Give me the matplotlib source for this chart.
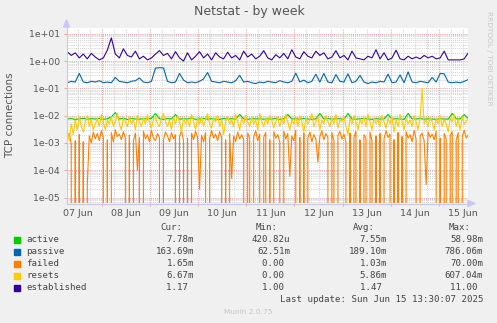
import numpy as np
import pandas as pd
import matplotlib
matplotlib.use('Agg')
import matplotlib.pyplot as plt
import matplotlib.dates as mdates
from matplotlib.patches import Rectangle, Polygon
from matplotlib.lines import Line2D
from matplotlib.ticker import LogLocator, FuncFormatter, NullFormatter

W, H = 497, 323

# samples every 2 hours (smooth series) and every hour (jagged series)
times = pd.date_range('2025-06-07 06:40', periods=101, freq='2h')
times_h = pd.date_range('2025-06-07 06:40', periods=201, freq='h')

active = [7.5e-3, 7.8e-3, 7.2e-3, 7.6e-3, 8e-3, 7.4e-3, 7.7e-3, 7.5e-3, 7.9e-3, 7.3e-3,
          7.6e-3, 9e-3, 1.3e-2, 7.5e-3, 8e-3, 7.2e-3, 7.8e-3, 7.5e-3, 7.4e-3, 7.7e-3,
          7.5e-3, 7.9e-3, 1.2e-2, 7.6e-3, 7.3e-3, 7.8e-3, 7.5e-3, 1.1e-2, 7.4e-3, 7.7e-3,
          7.5e-3, 8.1e-3, 7.3e-3, 7.6e-3, 7.8e-3, 7.4e-3, 7.7e-3, 7.5e-3, 7.2e-3, 7.9e-3,
          7.5e-3, 7.7e-3, 7.4e-3, 1.1e-2, 7.6e-3, 7.3e-3, 7.8e-3, 7.5e-3, 7.7e-3, 7.4e-3,
          7.6e-3, 7.5e-3, 7.8e-3, 7.3e-3, 7.6e-3, 1.1e-2, 7.5e-3, 7.7e-3, 7.4e-3, 7.8e-3,
          7.5e-3, 7.3e-3, 7.6e-3, 1.2e-2, 7.5e-3, 7.8e-3, 7.4e-3, 7.6e-3, 7.7e-3, 7.3e-3,
          1.2e-2, 7.5e-3, 7.4e-3, 7.6e-3, 7.8e-3, 7.5e-3, 7.3e-3, 7.7e-3, 7.5e-3, 7.6e-3,
          1.1e-2, 7.4e-3, 7.7e-3, 7.5e-3, 7.3e-3, 1.2e-2, 7.6e-3, 7.5e-3, 7.8e-3, 7.4e-3,
          7.6e-3, 7.5e-3, 7.3e-3, 7.7e-3, 7.5e-3, 7.4e-3, 1.2e-2, 7.6e-3, 7.5e-3, 1.1e-2,
          7.8e-3]

passive = [0.16, 0.18, 0.17, 0.35, 0.17, 0.16, 0.18, 0.17, 0.19, 0.16,
           0.17, 0.16, 0.25, 0.18, 0.17, 0.16, 0.18, 0.19, 0.24, 0.17,
           0.16, 0.18, 0.55, 0.57, 0.56, 0.18, 0.16, 0.17, 0.35, 0.20,
           0.16, 0.17, 0.16, 0.18, 0.22, 0.38, 0.18, 0.17, 0.16, 0.18,
           0.17, 0.16, 0.19, 0.30, 0.17, 0.18, 0.16, 0.15, 0.17, 0.16,
           0.18, 0.17, 0.16, 0.19, 0.17, 0.16, 0.18, 0.36, 0.17, 0.20,
           0.16, 0.18, 0.33, 0.17, 0.35, 0.17, 0.16, 0.32, 0.18, 0.17,
           0.34, 0.16, 0.18, 0.30, 0.17, 0.15, 0.17, 0.16, 0.18, 0.17,
           0.33, 0.16, 0.17, 0.31, 0.16, 0.40, 0.17, 0.16, 0.18, 0.17,
           0.16, 0.25, 0.17, 0.35, 0.34, 0.17, 0.16, 0.17, 0.16, 0.18,
           0.21]

# hourly
failed = [1.5e-3, 2.2e-3, 9e-4, 0, 1.2e-3, 0, 2e-3, 0, 1.1e-3, 0,
          3e-5, 1.8e-3, 1.0e-3, 2.5e-3, 1.4e-3, 2.2e-3, 1.2e-3, 2.8e-3, 1.6e-3, 0,
          1.3e-3, 0, 2.4e-3, 1.1e-3, 3e-3, 1.7e-3, 2.1e-3, 1.3e-3, 2.6e-3, 1.5e-3,
          0, 1.9e-3, 0, 1.2e-3, 2.3e-3, 1e-4, 1.6e-3, 0, 2.7e-3, 1.4e-3,
          2e-3, 1.1e-3, 2.9e-3, 1.5e-3, 1.2e-3, 2.2e-3, 1.6e-3, 0, 1.3e-3, 2.5e-3,
          1.8e-3, 1.1e-3, 2.4e-3, 1.4e-3, 2e-3, 0, 1.7e-3, 2.8e-3, 1.2e-3, 0,
          1.5e-3, 0, 2.3e-3, 1.3e-3, 2.7e-3, 1.6e-3, 2e-5, 1.9e-3, 1.1e-3, 2.4e-3,
          0, 1.4e-3, 2.9e-3, 1.5e-3, 2.1e-3, 1.2e-3, 2.6e-3, 1.6e-3, 0, 1.3e-3,
          0, 2.2e-3, 5e-5, 1.8e-3, 1.1e-3, 2.5e-3, 1.4e-3, 2e-3, 1.3e-3, 0,
          2.3e-3, 1.5e-3, 0, 1.7e-3, 2.8e-3, 1.2e-3, 2.1e-3, 0, 1.6e-3, 2.4e-3,
          0, 1.3e-3, 0, 2.6e-3, 1.5e-3, 2e-3, 1.1e-3, 0, 2.7e-3, 1.4e-3,
          2.2e-3, 6e-5, 1.8e-3, 1.2e-3, 2.9e-3, 0, 1.6e-3, 0, 2.3e-3, 0,
          1.5e-3, 2.5e-3, 1.1e-3, 2e-3, 1.4e-3, 2e-4, 1.7e-3, 2.8e-3, 1.3e-3, 2.2e-3,
          1.6e-3, 0, 2.4e-3, 1.2e-3, 0, 1.9e-3, 2.6e-3, 1.4e-3, 2.1e-3, 1.1e-3,
          0, 2.3e-3, 0, 1.6e-3, 2.7e-3, 0, 1.3e-3, 0, 2e-3, 1.5e-3,
          0, 2.5e-3, 1.2e-3, 0, 1.8e-3, 0, 2.2e-3, 0, 1.4e-3, 2.8e-3,
          1.6e-3, 2.1e-3, 0, 1.3e-3, 0, 2.4e-3, 0, 1.7e-3, 0, 2.6e-3,
          1.5e-3, 2e-3, 1.1e-3, 2.9e-3, 1.4e-3, 0, 1.8e-3, 2.3e-3, 1.2e-3, 3e-5,
          2.5e-3, 1.6e-3, 2.1e-3, 1.3e-3, 2.7e-3, 0, 1.5e-3, 0, 2.2e-3, 1.4e-3,
          0, 1.9e-3, 2.6e-3, 0, 1.3e-3, 2.4e-3, 0, 1.7e-3, 2.9e-3, 1.5e-3,
          2e-3]

# hourly
resets = [3e-3, 1.2e-3, 5e-3, 2e-3, 7e-3, 3e-3, 9e-3, 4e-3, 2.5e-3, 6e-3,
          1e-2, 4e-3, 7e-3, 3e-3, 5e-3, 8e-3, 4e-3, 1.1e-2, 6e-3, 3e-3,
          7e-3, 5e-3, 9e-3, 4e-3, 6e-3, 1.2e-2, 5e-3, 3e-3, 8e-3, 6e-3,
          4e-3, 9e-3, 5e-3, 7e-3, 3e-3, 1e-2, 6e-3, 4e-3, 8e-3, 5e-3,
          1.1e-2, 6e-3, 3.5e-3, 7e-3, 9e-3, 5e-3, 4e-3, 8e-3, 1.2e-2, 6e-3,
          4e-3, 7e-3, 3e-3, 9e-3, 5e-3, 1e-2, 6e-3, 2.5e-3, 8e-3, 5e-3,
          7e-3, 4e-3, 1.1e-2, 6e-3, 3e-3, 8e-3, 5e-3, 9e-3, 4e-3, 7e-3,
          1.2e-2, 5e-3, 3.5e-3, 8e-3, 6e-3, 1e-2, 4e-3, 7e-3, 2e-3, 6e-3,
          9e-3, 5e-3, 7e-3, 4e-3, 1.1e-2, 6e-3, 3e-3, 8e-3, 5e-3, 1e-2,
          6e-3, 4e-3, 9e-3, 5e-3, 7e-3, 3e-3, 1.2e-2, 6e-3, 4e-3, 8e-3,
          5e-3, 1e-2, 7e-3, 3.5e-3, 6e-3, 9e-3, 4e-3, 8e-3, 5e-3, 1.1e-2,
          6e-3, 3e-3, 7e-3, 5e-3, 9e-3, 4e-3, 1e-2, 6e-3, 2.5e-3, 8e-3,
          5e-3, 7e-3, 1.2e-2, 4e-3, 6e-3, 9e-3, 3e-3, 7e-3, 5e-3, 1e-2,
          6e-3, 4e-3, 8e-3, 5e-3, 1.1e-2, 3.5e-3, 7e-3, 6e-3, 9e-3, 4e-3,
          2e-3, 8e-3, 5e-3, 1e-2, 6e-3, 3e-3, 7e-3, 5e-3, 9e-3, 4e-3,
          1.1e-2, 6e-3, 3e-3, 8e-3, 5e-3, 7e-3, 4e-3, 1e-2, 6e-3, 3.5e-3,
          8e-3, 5e-3, 9e-3, 2.5e-3, 7e-3, 4e-3, 1.1e-2, 6e-3, 3e-3, 8e-3,
          5e-3, 7e-3, 4e-3, 1e-2, 6e-3, 3e-3, 8e-3, 1e-1, 5e-3, 7e-3,
          4e-3, 9e-3, 6e-3, 3e-3, 8e-3, 5e-3, 1e-2, 4e-3, 7e-3, 5e-3,
          2.5e-3, 8e-3, 6e-3, 1.1e-2, 4e-3, 7e-3, 3e-3, 9e-3, 5e-3, 6e-3,
          8e-3]

established = [2.2, 1.6, 2.0, 1.3, 1.8, 1.2, 1.9, 1.4, 1.1, 1.3,
               2.5, 7.0, 1.8, 1.3, 2.8, 1.6, 1.4, 2.3, 1.2, 1.5,
               1.1, 1.3, 1.8, 2.4, 1.6, 1.9, 1.2, 2.2, 1.3, 1.0,
               2.0, 1.1, 1.5, 2.2, 1.3, 1.8, 1.1, 2.0, 1.4, 1.2,
               2.1, 1.3, 1.6, 1.1, 2.3, 1.4, 1.8, 1.2, 1.5, 2.4,
               1.3, 1.1, 1.7, 1.3, 1.9, 1.2, 2.6, 1.4, 1.2, 2.2,
               1.5, 1.3, 2.3, 1.6, 2.0, 1.2, 1.4, 2.4, 1.3, 1.6,
               1.1, 2.3, 1.3, 1.2, 1.1, 1.5, 1.3, 2.6, 1.2, 2.0,
               1.1, 1.3, 2.5, 1.2, 1.1, 1.5, 1.2, 1.4, 1.2, 1.6,
               1.3, 1.5, 1.2, 1.3, 2.3, 1.1, 1.1, 1.1, 1.1, 1.2,
               2.0]

names = ['active', 'passive', 'failed', 'resets', 'established']
colors = ['#00cc00', '#0066b3', '#ff8000', '#ffcc00', '#330099']
cur = ['7.78m', '163.69m', '1.65m', '6.67m', '1.17 ']
vmin = ['420.82u', '62.51m', '0.00 ', '0.00 ', '1.00 ']
avg = ['7.55m', '189.10m', '1.03m', '5.86m', '1.47 ']
vmax = ['58.98m', '786.06m', '70.00m', '607.04m', '11.00 ']

def fx(x):
    return x / W

def fy(y):
    return 1 - y / H

fig = plt.figure(figsize=(W / 100, H / 100), dpi=100, facecolor='#f0f0f0')
ax = fig.add_axes([fx(67), fy(203), (468 - 67) / W, (203 - 28) / H])
ax.set_facecolor('white')

dot = (0, (1, 1))
red = '#e8a8a8'
gray = '#d4d4d4'

series_x = [times, times, times_h, times_h, times]
for tx, vals, col in zip(series_x, [active, passive, failed, resets, established], colors):
    ax.plot(tx, vals, color=col, lw=0.8, zorder=3)

ax.set_yscale('log')
ax.set_ylim(6.3e-6, 16.2)
xmin = pd.Timestamp('2025-06-07 06:33')
ax.set_xlim(xmin, xmin + pd.Timedelta(hours=200))

# vertical grid: every 6 h grey, midnight red
for t in pd.date_range('2025-06-07 12:00', '2025-06-15 18:00', freq='6h'):
    c = red if t.hour == 0 else gray
    ax.axvline(t, color=c, lw=0.75, ls=dot, zorder=1)

ax.yaxis.set_major_locator(LogLocator(base=10, numticks=20))
ax.yaxis.set_minor_locator(LogLocator(base=10, subs=np.arange(2, 10), numticks=20))
ax.yaxis.set_major_formatter(FuncFormatter(lambda v, p: format(v, '.0e')))
ax.yaxis.set_minor_formatter(NullFormatter())
ax.grid(which='major', axis='y', color=red, lw=0.75, ls=dot, zorder=1)
ax.grid(which='minor', axis='y', color=gray, lw=0.75, ls=dot, zorder=1)
ax.set_axisbelow(True)

ax.xaxis.set_major_locator(mdates.DayLocator())
ax.xaxis.set_major_formatter(NullFormatter())
ax.xaxis.set_minor_locator(mdates.HourLocator(byhour=[12]))
ax.xaxis.set_minor_formatter(mdates.DateFormatter('%d %b'))

ax.tick_params(axis='y', which='major', length=2.5, width=0.75, color=red,
               labelsize=6.7, labelcolor='#555555', pad=2.5)
ax.tick_params(axis='y', which='minor', length=0)
ax.tick_params(axis='x', which='major', length=2.5, width=0.75, color=red)
ax.tick_params(axis='x', which='minor', length=0, labelsize=6.8,
               labelcolor='#555555', pad=4)

for s in ax.spines.values():
    s.set_visible(False)

# axes with arrows
axc = '#c8c8f0'
fig.add_artist(Line2D([fx(66.5), fx(66.5)], [fy(203), fy(24)], color=axc, lw=0.8,
                      transform=fig.transFigure))
fig.add_artist(Line2D([fx(66.5), fx(469)], [fy(203.5), fy(203.5)], color=axc, lw=0.8,
                      transform=fig.transFigure))
fig.add_artist(Polygon([[fx(63.5), fy(27)], [fx(69.5), fy(27)], [fx(66.5), fy(20)]],
                       closed=True, color=axc, transform=fig.transFigure))
fig.add_artist(Polygon([[fx(468), fy(200.5)], [fx(468), fy(206.5)], [fx(475), fy(203.5)]],
                       closed=True, color=axc, transform=fig.transFigure))

fig.text(fx(249), fy(12), 'Netstat - by week', ha='center', va='center',
         fontsize=9, color='#555555')
fig.text(fx(10), fy(115.5), 'TCP connections', rotation=90, ha='center', va='center',
         fontsize=7.5, color='#555555')
fig.text(fx(489), fy(58), 'RRDTOOL / TOBI OETIKER', rotation=270, ha='center',
         va='center', fontsize=5.3, color='#c8c8c8')

mono = 'DejaVu Sans Mono'
fs = 6.6
tc = '#444444'
cols = [194, 290, 387, 483]
heads = ['Cur:', 'Min:', 'Avg:', 'Max:']
for x, h in zip(cols, heads):
    fig.text(fx(x - 12), fy(228), h, ha='right', va='center', family=mono,
             fontsize=fs, color=tc)

rows = [239.5, 251.5, 263.5, 275.5, 287.5]
for i, y in enumerate(rows):
    fig.add_artist(Rectangle((fx(14), fy(y + 3)), 6 / W, 6 / H, color=colors[i],
                             transform=fig.transFigure))
    fig.text(fx(26.5), fy(y), names[i], ha='left', va='center', family=mono,
             fontsize=fs, color=tc)
    for x, v in zip(cols, [cur[i], vmin[i], avg[i], vmax[i]]):
        fig.text(fx(x), fy(y), v, ha='right', va='center', family=mono,
                 fontsize=fs, color=tc)

fig.text(fx(483), fy(299.5), 'Last update: Sun Jun 15 13:30:07 2025', ha='right',
         va='center', family=mono, fontsize=fs, color=tc)
fig.text(fx(248), fy(312), 'Munin 2.0.75', ha='center', va='center',
         fontsize=5.3, color='#c4c4c4')

fig.savefig('out.png', dpi=100, facecolor=fig.get_facecolor())
